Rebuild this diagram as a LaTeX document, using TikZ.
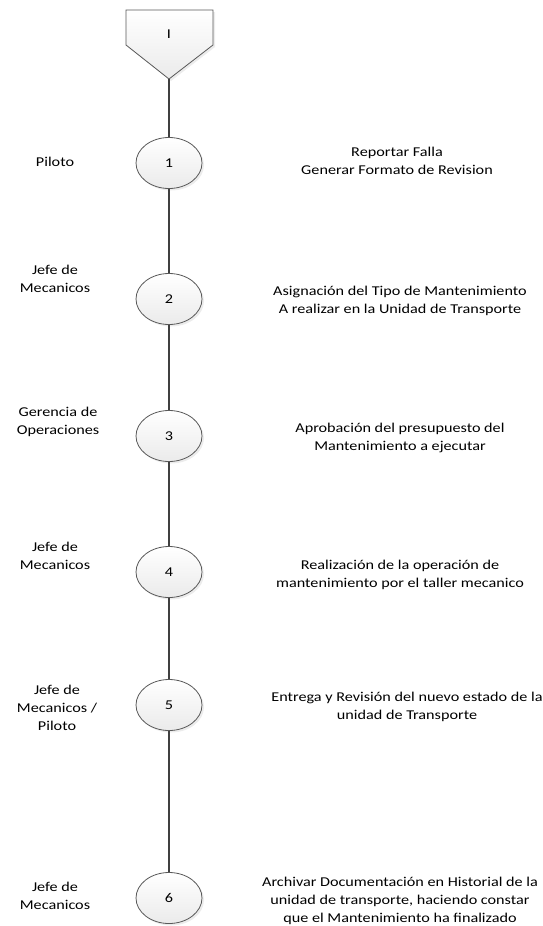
\documentclass[tikz,border=0pt]{standalone}
\usepackage{fontspec}
\setmainfont{Carlito}[FakeStretch=1.2]
\usetikzlibrary{shadows,shapes.geometric}
\begin{document}
\begin{tikzpicture}[x=1pt,y=-1pt,
  stepnode/.style={ellipse, draw=black!65, line width=0.8pt, minimum width=66pt, minimum height=51pt,
    top color=white, bottom color=black!8, inner sep=0pt,
    drop shadow={opacity=0.15, shadow xshift=2pt, shadow yshift=-2pt}, font=\fontsize{13.5}{16}\selectfont},
  role/.style={align=center, font=\fontsize{13.5}{18}\selectfont, inner sep=0pt},
  desc/.style={align=center, font=\fontsize{13.5}{18}\selectfont, inner sep=0pt},
  conn/.style={draw=black!75, line width=2.2pt}]
\useasboundingbox (0,0) rectangle (542,926);
\path[draw=black!65, line width=0.8pt, top color=white, bottom color=black!8,
  drop shadow={opacity=0.15, shadow xshift=2pt, shadow yshift=-2pt}]
  (126,10) -- (213,10) -- (213,45) -- (169,79) -- (126,45) -- cycle;
\node[font=\fontsize{13.5}{16}\selectfont] (top) at (169,34) {I};
\coordinate (tip) at (169,79);
\node[stepnode] (c1) at (169,163) {1};
\node[stepnode] (c2) at (169,299) {2};
\node[stepnode] (c3) at (169,436) {3};
\node[stepnode] (c4) at (169,572) {4};
\node[stepnode] (c5) at (169,705) {5};
\node[stepnode] (c6) at (169,898) {6};
\node[role] (r1) at (55,162) {Piloto};
\node[role] (r2) at (55,279) {Jefe de\\Mecanicos};
\node[role] (r3) at (58,422) {Gerencia de\\Operaciones};
\node[role] (r4) at (55,556) {Jefe de\\Mecanicos};
\node[role] (r5) at (57,708) {Jefe de\\Mecanicos /\\Piloto};
\node[role] (r6) at (55,896) {Jefe de\\Mecanicos};
\node[desc] (d1) at (397,161) {Reportar Falla\\Generar Formato de Revision};
\node[desc] (d2) at (400,301) {Asignación del Tipo de Mantenimiento\\A realizar en la Unidad de Transporte};
\node[desc] (d3) at (400,438) {Aprobación del presupuesto del\\Mantenimiento a ejecutar};
\node[desc] (d4) at (400,575) {Realización de la operación de\\mantenimiento por el taller mecanico};
\node[desc] (d5) at (407,707) {Entrega y Revisión del nuevo estado de la\\unidad de Transporte};
\node[desc] (d6) at (400,901) {Archivar Documentación en Historial de la\\unidad de transporte, haciendo constar\\que el Mantenimiento ha finalizado};
\draw[conn] (tip) -- (c1);
\draw[conn] (c1) -- (c2);
\draw[conn] (c2) -- (c3);
\draw[conn] (c3) -- (c4);
\draw[conn] (c4) -- (c5);
\draw[conn] (c5) -- (c6);
\end{tikzpicture}
\end{document}
